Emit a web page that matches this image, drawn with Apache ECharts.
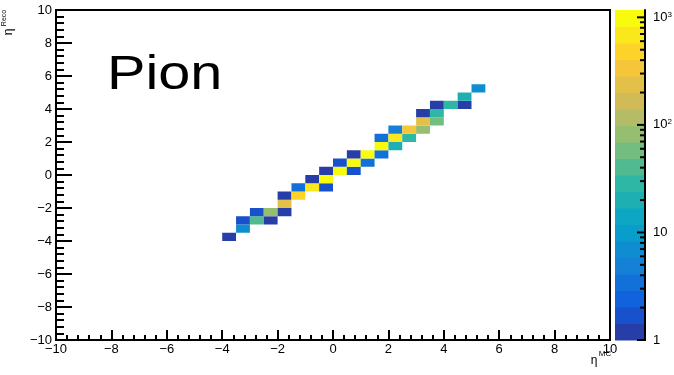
<!DOCTYPE html>
<html>
<head>
<meta charset="utf-8">
<script src="https://cdn.jsdelivr.net/npm/echarts@6/dist/echarts.min.js"></script>
<style>
  html, body { margin: 0; padding: 0; background: #fff; }
  #chart { width: 674px; height: 375px; }
</style>
</head>
<body>
<div id="chart"></div>
<script>
// 2D histogram of reconstructed vs. generated pseudorapidity (bins of 0.5)
const binWidth = 0.5;
// lower bin edges in eta^MC, eta^Reco and the bin contents
const etaMC   = [-4, -3.5, -3.5, -3, -2.5, -3, -2.5, -2, -2, -2, -1.5, -1.5, -1, -0.5, -1, -0.5, -0.5, 0, 0.5, 0, 0.5, 1, 0.5, 1, 1.5, 1.5, 2, 1.5, 2, 2.5, 2, 2.5, 3, 3, 3.5, 3, 3.5, 3.5, 4, 4.5, 4.5, 5];
const etaReco = [-4, -3.5, -3, -3, -3, -2.5, -2.5, -2.5, -2, -1.5, -1.5, -1, -1, -1, -0.5, -0.5, 0, 0, 0, 0.5, 0.5, 0.5, 1, 1, 1, 1.5, 1.5, 2, 2, 2, 2.5, 2.5, 2.5, 3, 3, 3.5, 3.5, 4, 4, 4, 4.5, 5];
const counts  = [1, 7, 2, 40, 1, 2, 85, 1, 240, 1, 480, 4, 700, 2, 1, 950, 1, 980, 2, 2, 1100, 3, 1, 1170, 4, 900, 20, 3, 650, 28, 5, 330, 80, 230, 55, 1, 27, 1, 26, 1, 20, 7];

// axis ranges and colour-scale labels
const axisMin = -10, axisMax = 10, axisStep = 2;
const zMin = 1, zMax = 1170;
const zMajor = [1, 10, 100, 1000];
const zMajorLabels = ['1', '10', '10{s|2}', '10{s|3}'];
const zMinor = [2, 3, 4, 5, 6, 7, 8, 9, 20, 30, 40, 50, 60, 70, 80, 90, 200, 300, 400, 500, 600, 700, 800, 900];
const nContours = 20;

// "bird" colour palette
const birdStops = [0.0, 0.125, 0.25, 0.375, 0.5, 0.625, 0.75, 0.875, 1.0];
const birdR = [0.2082, 0.0592, 0.0780, 0.0232, 0.1802, 0.5301, 0.8186, 0.9956, 0.9764];
const birdG = [0.1664, 0.3599, 0.5041, 0.6419, 0.7178, 0.7492, 0.7328, 0.7862, 0.9832];
const birdB = [0.5293, 0.8684, 0.8385, 0.7914, 0.6425, 0.4662, 0.3499, 0.1968, 0.0539];

function bird(t) {
  let k = 0;
  while (k < birdStops.length - 2 && t > birdStops[k + 1]) k++;
  const f = (t - birdStops[k]) / (birdStops[k + 1] - birdStops[k]);
  const c = (a) => Math.round(255 * (a[k] + f * (a[k + 1] - a[k])));
  return 'rgb(' + c(birdR) + ',' + c(birdG) + ',' + c(birdB) + ')';
}

// one colour per contour band, logarithmic in z
const logMax = Math.log10(zMax), logMin = Math.log10(zMin);
const bandEdges = [];
for (let i = 0; i <= nContours; i++) bandEdges.push(Math.pow(10, logMin + (logMax - logMin) * i / nContours));
const bandColors = [];
for (let i = 0; i < nContours; i++) bandColors.push(bird(Math.floor((i + 0.99) * 255 / nContours) / 254));
const pieces = bandColors.map((col, i) => (
  i === nContours - 1
    ? { gte: bandEdges[i], lte: bandEdges[i + 1] * 1.001, color: col }
    : { gte: bandEdges[i], lt: bandEdges[i + 1], color: col }
));

const cells = counts.map((v, i) => [etaMC[i], etaReco[i], v]);
// [x, lower z, upper z, band index]
const bands = bandColors.map((col, i) => [0.5, bandEdges[i], bandEdges[i + 1], i]);

const minus = (v) => String(v).replace('-', '\u2212');
const font = '"Liberation Sans", Helvetica, Arial, sans-serif';
const markStyle = { stroke: '#000', lineWidth: 2 };

const chart = echarts.init(document.getElementById('chart'), null, { renderer: 'canvas' });

chart.setOption({
  animation: false,
  backgroundColor: '#fff',
  grid: [
    { left: 56, top: 10, width: 554, height: 330, outerBoundsMode: 'none', show: true, borderColor: '#000', borderWidth: 2, backgroundColor: 'transparent' },
    { left: 615, top: 10, width: 30, height: 330, outerBoundsMode: 'none', show: false }
  ],
  xAxis: [
    {
      gridIndex: 0, type: 'value', min: axisMin, max: axisMax, interval: axisStep,
      axisLine: { show: true, onZero: false, lineStyle: { color: '#000', width: 2 } },
      axisTick: { show: true, inside: true, length: 10, lineStyle: { color: '#000', width: 2 } },
      minorTick: { show: true, splitNumber: 5, length: 5, lineStyle: { color: '#000', width: 2 } },
      splitLine: { show: false },
      axisLabel: { color: '#000', fontSize: 13, fontFamily: font, margin: 3, formatter: minus }
    },
    {
      gridIndex: 1, type: 'value', min: 0, max: 1, show: false
    }
  ],
  yAxis: [
    {
      gridIndex: 0, type: 'value', min: axisMin, max: axisMax, interval: axisStep,
      axisLine: { show: true, onZero: false, lineStyle: { color: '#000', width: 2 } },
      axisTick: { show: true, inside: true, length: 16, lineStyle: { color: '#000', width: 2 } },
      minorTick: { show: true, splitNumber: 5, length: 8, lineStyle: { color: '#000', width: 2 } },
      splitLine: { show: false },
      axisLabel: { color: '#000', fontSize: 13, fontFamily: font, margin: 4, formatter: minus }
    },
    {
      gridIndex: 1, type: 'log', logBase: 10, min: zMin, max: zMax, position: 'right', z: 10,
      axisLine: { show: true, onZero: false, lineStyle: { color: '#000', width: 2 } },
      axisTick: { show: false },
      splitLine: { show: false },
      axisLabel: {
        color: '#000', fontSize: 13, fontFamily: font, margin: 8,
        formatter: (v) => zMajorLabels[Math.round(Math.log10(v))],
        rich: { s: { fontSize: 8, fontFamily: font, color: '#000', verticalAlign: 'top', padding: [0, 0, 6, 0] } }
      }
    }
  ],
  visualMap: {
    type: 'piecewise', show: false, seriesIndex: 0, dimension: 2, pieces: pieces
  },
  series: [
    {
      type: 'custom',
      xAxisIndex: 0, yAxisIndex: 0,
      data: cells,
      renderItem: (params, api) => {
        const x0 = api.value(0), y0 = api.value(1);
        const p0 = api.coord([x0, y0]);
        const p1 = api.coord([x0 + binWidth, y0 + binWidth]);
        return {
          type: 'rect',
          shape: { x: p0[0], y: p1[1], width: p1[0] - p0[0], height: p0[1] - p1[1] },
          style: { fill: api.visual('color') }
        };
      }
    },
    {
      // colour scale bands; the last band also carries the scale's edge and tick marks
      type: 'custom',
      xAxisIndex: 1, yAxisIndex: 1,
      data: bands,
      z: 1,
      renderItem: (params, api) => {
        const p0 = api.coord([0, api.value(1)]);
        const p1 = api.coord([1, api.value(2)]);
        const children = [{
          type: 'rect',
          z2: 0,
          shape: { x: p0[0], y: p1[1], width: p1[0] - p0[0], height: p0[1] - p1[1] + 0.5 },
          style: { fill: bandColors[api.value(3)] }
        }];
        if (params.dataIndex === bands.length - 1) {
          const edgeX = p1[0];
          const bottom = api.coord([1, zMin]);
          const top = api.coord([1, zMax]);
          children.push({
            type: 'line', z2: 100,
            shape: { x1: edgeX, y1: bottom[1] + 1, x2: edgeX, y2: top[1] },
            style: markStyle
          });
          zMajor.forEach((v) => {
            const y = api.coord([1, v])[1];
            children.push({ type: 'line', z2: 100, shape: { x1: edgeX - 8, y1: y, x2: edgeX + 1, y2: y }, style: markStyle });
          });
          zMinor.forEach((v) => {
            const y = api.coord([1, v])[1];
            children.push({ type: 'line', z2: 100, shape: { x1: edgeX - 5, y1: y, x2: edgeX + 1, y2: y }, style: markStyle });
          });
        }
        return { type: 'group', children: children };
      }
    }
  ],
  graphic: [
    { type: 'text', x: 107, y: 76, scaleX: 1.2, style: { text: 'Pion', font: '48px ' + font, fill: '#000', align: 'left', verticalAlign: 'middle' } },
    { type: 'text', x: 594, y: 361, style: { text: '\u03b7', font: '12px ' + font, fill: '#000', align: 'center', verticalAlign: 'middle' } },
    { type: 'text', x: 605, y: 354, style: { text: 'MC', font: '8px ' + font, fill: '#000', align: 'center', verticalAlign: 'middle' } },
    { type: 'text', x: 9, y: 32, rotation: Math.PI / 2, style: { text: '\u03b7', font: '12px ' + font, fill: '#000', align: 'center', verticalAlign: 'middle' } },
    { type: 'text', x: 4, y: 18, rotation: Math.PI / 2, style: { text: 'Reco', font: '7px ' + font, fill: '#000', align: 'center', verticalAlign: 'middle' } }
  ]
});
</script>
</body>
</html>
